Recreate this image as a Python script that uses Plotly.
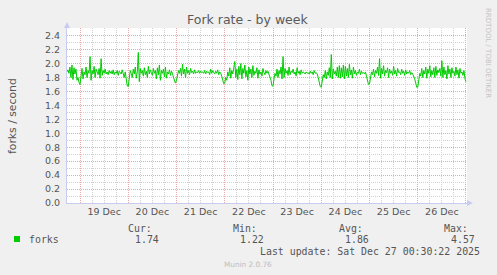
import pandas as pd
import plotly.graph_objects as go

# ---------------- data ----------------
start_time = "2025-12-18 17:30"
step = "30min"

forks_dec18 = [1.88, 1.91, 1.86, 1.95, 1.80, 1.98, 1.77, 1.94, 1.85, 1.92, 1.76, 1.80, 1.73]
forks_dec19 = [1.70, 1.82, 1.93, 1.78, 1.88, 1.84, 1.95, 1.80, 1.90, 1.86, 2.10, 1.76,
               1.90, 1.85, 1.96, 1.80, 1.92, 1.88, 1.84, 1.93, 1.79, 2.07, 1.83, 1.90,
               1.86, 1.92, 1.85, 1.88, 1.84, 1.90, 1.86, 1.89, 1.85, 1.91, 1.84, 1.88,
               1.86, 1.90, 1.83, 1.89, 1.87, 1.85, 1.91, 1.86, 1.80, 1.88, 1.74, 1.68]
forks_dec20 = [1.67, 1.78, 1.90, 1.86, 1.80, 1.92, 1.85, 1.95, 1.79, 1.88, 2.16, 1.74,
               1.93, 1.86, 1.90, 1.82, 1.94, 1.84, 1.89, 1.80, 1.96, 1.85, 1.91, 1.87,
               1.83, 1.93, 1.86, 1.90, 1.78, 1.94, 1.84, 1.98, 1.76, 1.90, 1.86, 1.92,
               1.81, 1.95, 1.79, 1.88, 1.85, 1.91, 1.83, 1.89, 1.86, 1.80, 1.74, 1.72]
forks_dec21 = [1.76, 1.84, 1.90, 1.86, 1.93, 1.82, 1.99, 1.85, 1.92, 1.80, 1.95, 1.86,
               1.90, 1.84, 1.93, 1.87, 1.89, 1.85, 1.91, 1.86, 1.88, 1.87, 1.90, 1.86,
               1.89, 1.87, 1.88, 1.86, 1.90, 1.85, 1.89, 1.87, 1.88, 1.84, 1.92, 1.86,
               1.90, 1.87, 1.85, 1.89, 1.86, 1.91, 1.84, 1.88, 1.86, 1.82, 1.78, 1.71]
forks_dec22 = [1.72, 1.80, 1.76, 1.88, 1.82, 1.94, 1.79, 1.90, 1.85, 1.97, 2.03, 1.80,
               1.92, 1.77, 1.96, 1.84, 2.00, 1.78, 1.93, 1.86, 1.98, 1.81, 1.90, 1.76,
               1.95, 1.85, 1.92, 1.80, 1.97, 1.83, 1.89, 1.86, 1.94, 1.79, 1.91, 1.85,
               1.88, 1.82, 1.93, 1.87, 1.84, 1.90, 1.86, 1.89, 1.85, 1.82, 1.76, 1.68]
forks_dec23 = [1.68, 1.78, 1.86, 1.82, 1.92, 1.80, 1.90, 1.85, 1.95, 1.78, 2.10, 1.80,
               1.93, 1.86, 1.90, 1.83, 1.95, 1.84, 1.89, 1.87, 1.92, 1.85, 1.88, 1.82,
               1.94, 1.86, 1.89, 1.84, 1.91, 1.86, 1.88, 1.87, 1.85, 1.88, 1.86, 1.87,
               1.85, 1.89, 1.86, 1.88, 1.84, 1.90, 1.86, 1.87, 1.85, 1.80, 1.75, 1.67]
forks_dec24 = [1.66, 1.75, 1.84, 1.80, 1.90, 1.78, 1.88, 1.83, 1.94, 1.80, 2.13, 1.78,
               1.92, 1.85, 1.89, 1.82, 1.95, 1.80, 1.97, 1.79, 1.94, 1.81, 1.98, 1.78,
               1.96, 1.82, 1.93, 1.80, 1.99, 1.84, 1.91, 1.79, 1.95, 1.85, 1.90, 1.83,
               1.88, 1.86, 1.92, 1.84, 1.89, 1.86, 1.87, 1.85, 1.88, 1.82, 1.77, 1.70]
forks_dec25 = [1.71, 1.80, 1.88, 1.84, 1.92, 1.81, 1.90, 1.86, 1.95, 1.83, 2.07, 1.79,
               1.93, 1.85, 1.97, 1.82, 1.90, 1.87, 1.94, 1.80, 1.92, 1.86, 1.89, 1.83,
               1.96, 1.85, 1.90, 1.82, 1.93, 1.87, 1.88, 1.84, 1.92, 1.86, 1.89, 1.83,
               1.91, 1.85, 1.88, 1.86, 1.90, 1.84, 1.87, 1.85, 1.82, 1.78, 1.72, 1.66]
forks_dec26 = [1.66, 1.78, 1.86, 1.82, 1.93, 1.80, 1.90, 1.85, 1.95, 1.79, 1.92, 1.86,
               1.97, 1.81, 1.90, 1.84, 1.94, 1.80, 1.96, 1.83, 1.91, 1.87, 1.93, 1.82,
               2.04, 1.80, 1.95, 1.84, 1.90, 1.78, 1.97, 1.85, 1.92, 1.80, 1.94, 1.86,
               1.89, 1.82, 1.95, 1.84, 1.91, 1.79, 1.93, 1.86, 1.88, 1.83, 1.90, 1.78]
forks_dec27 = [1.74]

x_range = ["2025-12-18 17:32", "2025-12-27 00:30"]
y_range = [0, 2.51]

title_text = "Fork rate - by week"
y_title = "forks / second"
series_name = "forks"
stat_labels = ["Cur:", "Min:", "Avg:", "Max:"]
stat_values = ["1.74", "1.22", "1.86", "4.57"]
last_update = "Last update: Sat Dec 27 00:30:22 2025"
side_text = "RRDTOOL / TOBI OETIKER"
footer_text = "Munin 2.0.76"

forks = (forks_dec18 + forks_dec19 + forks_dec20 + forks_dec21 + forks_dec22 +
         forks_dec23 + forks_dec24 + forks_dec25 + forks_dec26 + forks_dec27)
times = pd.date_range(start=start_time, periods=len(forks), freq=step)

# ---------------- layout geometry ----------------
W, H = 497, 275
L, R, T, B = 67, 30, 28, 72
PW, PH = W - L - R, H - T - B


def px(x):
    return (x - L) / PW


def py(y):
    return (H - B - y) / PH


SANS = "DejaVu Sans"
MONO = "DejaVu Sans Mono"
TXT = "#555555"
MAJOR = "#E6A8A8"
MINOR = "#D2D2D2"
AXIS = "#C8CCF0"

fig = go.Figure()
fig.add_trace(go.Scatter(x=times, y=forks, mode="lines",
                         line=dict(color="#00CC00", width=1),
                         name=series_name, showlegend=False, hoverinfo="skip"))

fig.update_layout(
    width=W, height=H,
    margin=dict(l=L, r=R, t=T, b=B, pad=0),
    paper_bgcolor="#F0F0F0", plot_bgcolor="#FFFFFF",
    showlegend=False,
    font=dict(family=SANS, size=9.5, color=TXT),
)

fig.update_xaxes(
    type="date", range=x_range,
    dtick=86400000, tick0="2025-12-19 00:00",
    tickformat="%d %b", ticklabelmode="period",
    showgrid=True, gridcolor=MAJOR, griddash="1px,1px", gridwidth=1,
    minor=dict(dtick=6 * 3600000, tick0="2025-12-19 00:00", showgrid=True,
               gridcolor=MINOR, griddash="1px,1px", gridwidth=1),
    showline=True, linecolor=AXIS, linewidth=1,
    ticks="", zeroline=False,
    tickfont=dict(family=SANS, size=9.5, color=TXT),
)
fig.update_yaxes(
    range=y_range, dtick=0.2, tick0=0, tickformat=".1f",
    showgrid=True, gridcolor=MAJOR, griddash="1px,1px", gridwidth=1,
    minor=dict(dtick=0.1, tick0=0, showgrid=True,
               gridcolor=MINOR, griddash="1px,1px", gridwidth=1),
    showline=True, linecolor=AXIS, linewidth=1,
    ticks="outside", ticklen=4, tickcolor="rgba(0,0,0,0)",
    zeroline=False,
    tickfont=dict(family=SANS, size=9.5, color=TXT),
)

# axis arrows
fig.add_shape(type="path", xref="paper", yref="paper",
              path=f"M {px(64)} {py(28)} L {px(70)} {py(28)} L {px(67)} {py(22)} Z",
              fillcolor=AXIS, line=dict(width=0))
fig.add_shape(type="path", xref="paper", yref="paper",
              path=f"M {px(467)} {py(200)} L {px(467)} {py(206)} L {px(473)} {py(203)} Z",
              fillcolor=AXIS, line=dict(width=0))

# legend square
fig.add_shape(type="rect", xref="paper", yref="paper",
              x0=px(14), x1=px(20), y0=py(236), y1=py(242),
              fillcolor="#00CC00", line=dict(width=0))

ann = []
ann.append(dict(text=title_text, x=px(248), y=py(19), xanchor="center", yanchor="middle",
                font=dict(family=SANS, size=12.5, color="#5a5a5a")))
ann.append(dict(text=y_title, x=px(12), y=py(116), xanchor="center", yanchor="middle",
                textangle=-90, font=dict(family=SANS, size=10.8, color=TXT)))
ann.append(dict(text=side_text, x=px(488), y=py(53), xanchor="center", yanchor="middle",
                textangle=90, font=dict(family=SANS, size=7, color="#C4C4C4")))
ann.append(dict(text=series_name, x=px(27), y=py(239.5), xanchor="left", yanchor="middle",
                font=dict(family=MONO, size=9.9, color=TXT)))
label_right = [154, 259, 365, 470]
value_right = [161, 266, 371, 477]
for lab, val, lr, vr in zip(stat_labels, stat_values, label_right, value_right):
    ann.append(dict(text=lab, x=px(lr), y=py(228), xanchor="right", yanchor="middle",
                    font=dict(family=MONO, size=9.9, color=TXT)))
    ann.append(dict(text=val, x=px(vr), y=py(239.5), xanchor="right", yanchor="middle",
                    font=dict(family=MONO, size=9.9, color=TXT)))
ann.append(dict(text=last_update, x=px(482), y=py(251), xanchor="right", yanchor="middle",
                font=dict(family=MONO, size=9.9, color=TXT)))
ann.append(dict(text=footer_text, x=px(248), y=py(264), xanchor="center", yanchor="middle",
                font=dict(family=SANS, size=7.3, color="#BDBDBD")))
for a in ann:
    a.update(xref="paper", yref="paper", showarrow=False)
fig.update_layout(annotations=ann)

fig.write_html("out.html")
